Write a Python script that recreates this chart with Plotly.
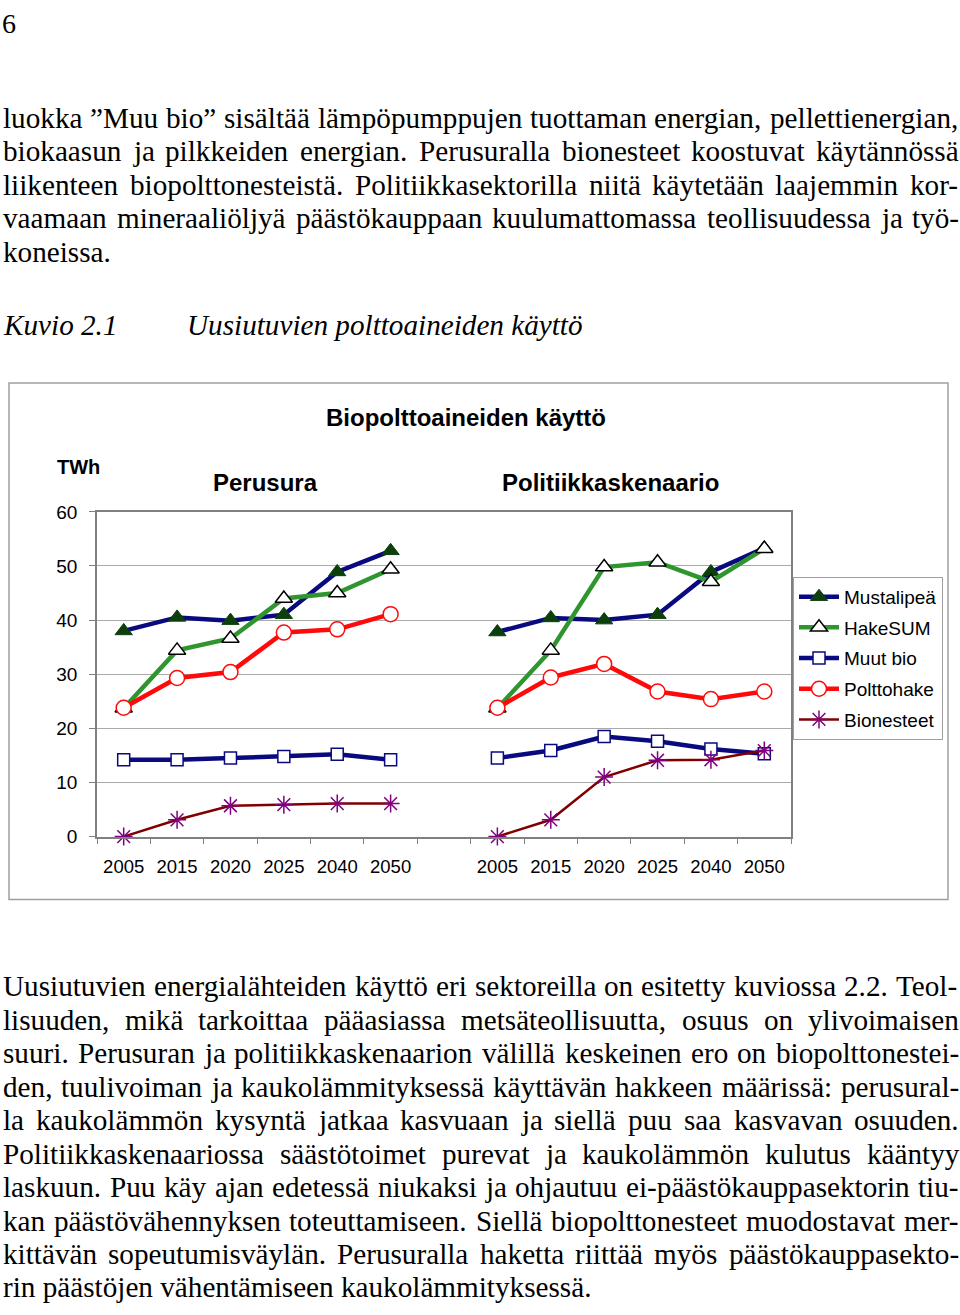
import plotly.graph_objects as go

W, H = 960, 1315

# ---------------- data ----------------
years = ["2005", "2015", "2020", "2025", "2040", "2050"]
scenarios = ["Perusura", "Politiikkaskenaario"]
series_names = ["Mustalipeä", "HakeSUM", "Muut bio", "Polttohake", "Bionesteet"]

mustalipea_perusura = [38.0, 40.5, 39.9, 41.0, 48.9, 52.8]
mustalipea_politiikka = [37.8, 40.4, 40.0, 41.0, 48.9, 53.3]
hakesum_perusura = [23.7, 34.4, 36.6, 44.0, 45.0, 49.4]
hakesum_politiikka = [23.7, 34.4, 49.8, 50.7, 47.1, 53.2]
muutbio_perusura = [14.2, 14.2, 14.5, 14.8, 15.2, 14.2]
muutbio_politiikka = [14.5, 15.9, 18.5, 17.6, 16.2, 15.3]
polttohake_perusura = [23.8, 29.3, 30.4, 37.7, 38.3, 41.1]
polttohake_politiikka = [23.8, 29.4, 31.9, 26.8, 25.4, 26.8]
bionesteet_perusura = [0.0, 3.1, 5.7, 5.9, 6.1, 6.1]
bionesteet_politiikka = [0.0, 3.1, 11.0, 14.1, 14.2, 15.9]

y_ticks = [0, 10, 20, 30, 40, 50, 60]

top_paragraph = [
    "luokka ”Muu bio” sisältää lämpöpumppujen tuottaman energian, pellettienergian,",
    "biokaasun ja pilkkeiden energian. Perusuralla bionesteet koostuvat käytännössä",
    "liikenteen biopolttonesteistä. Politiikkasektorilla niitä käytetään laajemmin kor-",
    "vaamaan mineraaliöljyä päästökauppaan kuulumattomassa teollisuudessa ja työ-",
    "koneissa.",
]
bottom_paragraph = [
    "Uusiutuvien energialähteiden käyttö eri sektoreilla on esitetty kuviossa 2.2. Teol-",
    "lisuuden, mikä tarkoittaa pääasiassa metsäteollisuutta, osuus on ylivoimaisen",
    "suuri. Perusuran ja politiikkaskenaarion välillä keskeinen ero on biopolttonestei-",
    "den, tuulivoiman ja kaukolämmityksessä käyttävän hakkeen määrissä: perusural-",
    "la kaukolämmön kysyntä jatkaa kasvuaan ja siellä puu saa kasvavan osuuden.",
    "Politiikkaskenaariossa säästötoimet purevat ja kaukolämmön kulutus kääntyy",
    "laskuun. Puu käy ajan edetessä niukaksi ja ohjautuu ei-päästökauppasektorin tiu-",
    "kan päästövähennyksen toteuttamiseen. Siellä biopolttonesteet muodostavat mer-",
    "kittävän sopeutumisväylän. Perusuralla haketta riittää myös päästökauppasekto-",
    "rin päästöjen vähentämiseen kaukolämmityksessä.",
]
page_number = "6"
figure_label = "Kuvio 2.1"
figure_caption = "Uusiutuvien polttoaineiden käyttö"
chart_title = "Biopolttoaineiden käyttö"
unit_label = "TWh"

# ---------------- helpers ----------------
def px(x):
    return x / W

def py(y):
    return 1 - y / H

# Times New Roman advance widths (em/1000) for justification
TW = {
    " ": 250, ".": 250, ",": 250, ":": 278, "-": 333, "”": 444,
    "0": 500, "1": 500, "2": 500, "3": 500, "4": 500, "5": 500, "6": 500,
    "7": 500, "8": 500, "9": 500,
    "a": 444, "b": 500, "c": 444, "d": 500, "e": 444, "f": 333, "g": 500,
    "h": 500, "i": 278, "j": 278, "k": 500, "l": 278, "m": 778, "n": 500,
    "o": 500, "p": 500, "q": 500, "r": 333, "s": 389, "t": 278, "u": 500,
    "v": 500, "w": 722, "x": 500, "y": 500, "z": 444, "ä": 444, "ö": 500,
    "K": 722, "M": 889, "P": 556, "S": 556, "T": 611, "U": 722,
}

BODY_FONT = "Liberation Serif, Times New Roman, serif"
BODY_SIZE = 29.2
LEFT, RIGHT = 2, 958

def word_width(w):
    return sum(TW.get(c, 500) for c in w) / 1000 * BODY_SIZE

annotations = []

def add_line(text, baseline, justify):
    ymid = baseline - 0.337 * BODY_SIZE
    if not justify:
        annotations.append(dict(
            text=text, x=px(LEFT), y=py(ymid), xref="paper", yref="paper",
            xanchor="left", yanchor="middle", showarrow=False, borderpad=0,
            font=dict(family=BODY_FONT, size=BODY_SIZE, color="black")))
        return
    words = text.split(" ")
    widths = [word_width(w) for w in words]
    gap = (RIGHT - LEFT - sum(widths)) / (len(words) - 1)
    x = LEFT
    for w, wd in zip(words, widths):
        annotations.append(dict(
            text=w, x=px(x), y=py(ymid), xref="paper", yref="paper",
            xanchor="left", yanchor="middle", showarrow=False, borderpad=0,
            font=dict(family=BODY_FONT, size=BODY_SIZE, color="black")))
        x += wd + gap

for i, line in enumerate(top_paragraph):
    add_line(line, 119.5 + i * 34.0, i < len(top_paragraph) - 1)
for i, line in enumerate(bottom_paragraph):
    add_line(line, 1002 + i * 34.0, i < len(bottom_paragraph) - 1)

# page number
annotations.append(dict(
    text=page_number, x=px(1), y=py(23 - 0.337 * 28), xref="paper", yref="paper",
    xanchor="left", yanchor="middle", showarrow=False, borderpad=0,
    font=dict(family=BODY_FONT, size=28, color="black")))
# figure caption (italic)
cap_mid = 330 - 0.337 * BODY_SIZE
annotations.append(dict(
    text="<i>" + figure_label + "</i>", x=px(2), y=py(cap_mid), xref="paper", yref="paper",
    xanchor="left", yanchor="middle", showarrow=False, borderpad=0,
    font=dict(family=BODY_FONT, size=BODY_SIZE, color="black")))
annotations.append(dict(
    text="<i>" + figure_caption + "</i>", x=px(186), y=py(cap_mid), xref="paper", yref="paper",
    xanchor="left", yanchor="middle", showarrow=False, borderpad=0,
    font=dict(family=BODY_FONT, size=BODY_SIZE, color="black")))

# chart texts
SANS = "Liberation Sans, Arial, sans-serif"
annotations.append(dict(
    text="<b>" + chart_title + "</b>", x=px(466), y=py(414), xref="paper", yref="paper",
    xanchor="center", yanchor="middle", showarrow=False,
    font=dict(family=SANS, size=24, color="black")))
annotations.append(dict(
    text="<b>" + unit_label + "</b>", x=px(55), y=py(464), xref="paper", yref="paper",
    xanchor="left", yanchor="middle", showarrow=False,
    font=dict(family=SANS, size=20, color="black")))
annotations.append(dict(
    text="<b>" + scenarios[0] + "</b>", x=px(265), y=py(480), xref="paper", yref="paper",
    xanchor="center", yanchor="middle", showarrow=False,
    font=dict(family=SANS, size=24, color="black")))
annotations.append(dict(
    text="<b>" + scenarios[1] + "</b>", x=px(610), y=py(480), xref="paper", yref="paper",
    xanchor="center", yanchor="middle", showarrow=False,
    font=dict(family=SANS, size=24, color="black")))

# ---------------- traces ----------------
n = len(years)
xs = list(range(n)) + [n] + list(range(n + 1, 2 * n + 1))
tickvals = list(range(n)) + list(range(n + 1, 2 * n + 1))
ticktext = years + years

def combine(a, b):
    return a + [None] + b

styles = [
    dict(line=dict(color="#0a0a80", width=4.5),
         marker=dict(symbol="triangle-up", size=15, color="#0d3f0d",
                     line=dict(color="#0d3f0d", width=1))),
    dict(line=dict(color="#2f962f", width=4.5),
         marker=dict(symbol="triangle-up", size=15, color="white",
                     line=dict(color="black", width=1.5))),
    dict(line=dict(color="#0a0a80", width=4.5),
         marker=dict(symbol="square", size=12, color="white",
                     line=dict(color="#0a0a80", width=1.5))),
    dict(line=dict(color="#ff0a0a", width=4.5),
         marker=dict(symbol="circle", size=15, color="white",
                     line=dict(color="#ff0a0a", width=1.5))),
    dict(line=dict(color="#800000", width=2.5),
         marker=dict(symbol="asterisk-open", size=15, color="#800080",
                     line=dict(color="#800080", width=1.5))),
]
data_pairs = [
    (mustalipea_perusura, mustalipea_politiikka),
    (hakesum_perusura, hakesum_politiikka),
    (muutbio_perusura, muutbio_politiikka),
    (polttohake_perusura, polttohake_politiikka),
    (bionesteet_perusura, bionesteet_politiikka),
]

fig = go.Figure()
for name, (a, b), st in zip(series_names, data_pairs, styles):
    fig.add_trace(go.Scatter(
        x=xs, y=combine(a, b), name=name, mode="lines+markers",
        line=st["line"], marker=st["marker"], cliponaxis=False,
        legendgroup=name, connectgaps=False))

AXIS_GREY = "#808080"
fig.update_layout(
    width=W, height=H,
    margin=dict(l=0, r=0, t=0, b=0),
    paper_bgcolor="white", plot_bgcolor="white",
    showlegend=True,
    legend=dict(
        x=px(793), y=py(576), xanchor="left", yanchor="top",
        bgcolor="white", bordercolor="#a0a0a0", borderwidth=1,
        font=dict(family=SANS, size=19, color="black"),
        tracegroupgap=3, itemwidth=40,
    ),
    xaxis=dict(
        domain=[px(97), px(791)], range=[-0.5, 2 * n + 0.5],
        tickmode="array", tickvals=tickvals, ticktext=ticktext,
        ticks="", showgrid=False, zeroline=False,
        showline=True, linecolor=AXIS_GREY, linewidth=1.5, mirror=True,
        tickfont=dict(family=SANS, size=18.5, color="black"),
        ticklabelstandoff=12,
        minor=dict(tickmode="array", tickvals=[i - 0.5 for i in range(2 * n + 2)],
                   ticks="outside", ticklen=6, tickcolor=AXIS_GREY, tickwidth=1,
                   showgrid=False),
    ),
    yaxis=dict(
        domain=[py(840), py(510)], range=[0, 60],
        tickmode="array", tickvals=y_ticks,
        showgrid=True, gridcolor="#aaaaaa", gridwidth=1, zeroline=False,
        showline=True, linecolor=AXIS_GREY, linewidth=1.5, mirror=True,
        ticks="outside", ticklen=6, tickcolor=AXIS_GREY,
        tickfont=dict(family=SANS, size=19, color="black"),
        ticklabelstandoff=8,
    ),
    annotations=annotations,
    shapes=[dict(type="rect", xref="paper", yref="paper",
                 x0=px(9), x1=px(948), y0=py(904), y1=py(379),
                 line=dict(color="#a0a0a0", width=1.5))],
)

fig.write_html("out.html")
